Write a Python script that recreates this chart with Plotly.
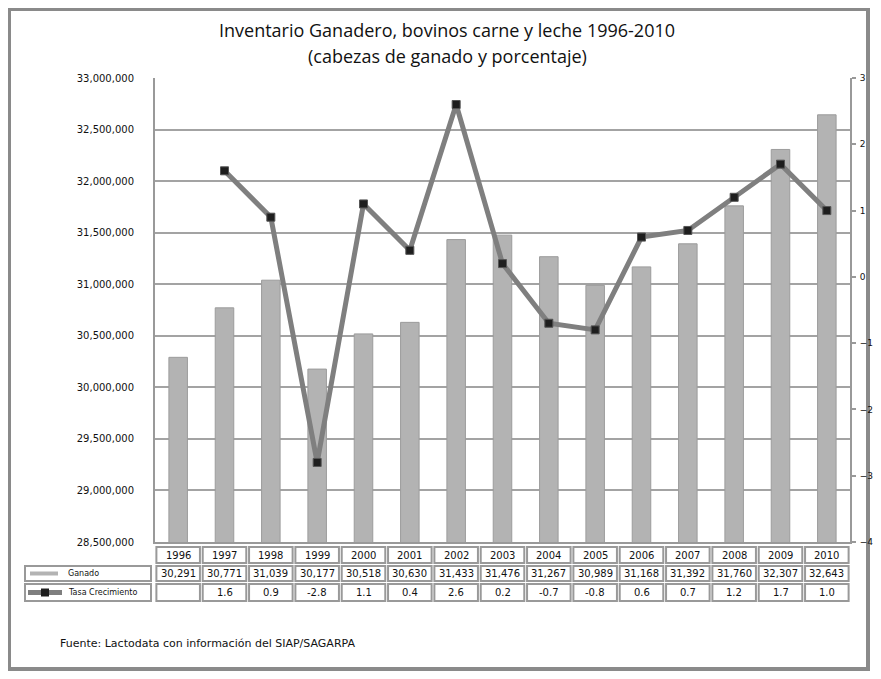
import plotly.graph_objects as go

# Datos (miles de cabezas y tasa de crecimiento anual, %)
years = ["1996", "1997", "1998", "1999", "2000", "2001", "2002", "2003",
         "2004", "2005", "2006", "2007", "2008", "2009", "2010"]
ganado_miles = [30291, 30771, 31039, 30177, 30518, 30630, 31433, 31476,
                31267, 30989, 31168, 31392, 31760, 32307, 32643]
tasa = [None, 1.6, 0.9, -2.8, 1.1, 0.4, 2.6, 0.2,
        -0.7, -0.8, 0.6, 0.7, 1.2, 1.7, 1.0]

title_1 = "Inventario Ganadero, bovinos carne y leche 1996-2010"
title_2 = "(cabezas de ganado y porcentaje)"
row_labels = ["Ganado", "Tasa Crecimiento"]
fuente = "Fuente: Lactodata con información del SIAP/SAGARPA"

# the page body adds an 8px margin on every side; keep the figure inside the window
OFF = 8
W, H = 881 - 2 * OFF, 679 - 2 * OFF
L, T = 155 - OFF, 78 - OFF
R = W - (850 - OFF)
B = H - (542 - OFF)
PW, PH = W - L - R, H - T - B

BAR_COL = "#b3b3b3"
LINE_COL = "#7f7f7f"
GRID_COL = "#a3a3a3"
NUM_FONT = dict(family="DejaVu Sans", size=10, color="#111")


def px_x(p):
    # reference pixel -> paper x
    return (p - OFF - L) / PW


def px_y(p):
    # reference pixel -> paper y
    return (H - B - (p - OFF)) / PH


ganado = [v * 1000 for v in ganado_miles]

fig = go.Figure()
fig.add_trace(go.Bar(x=years, y=ganado, name="Ganado", width=0.4,
                     marker=dict(color=BAR_COL, line=dict(color="#9c9c9c", width=1))))
fig.add_trace(go.Scatter(x=years, y=tasa, name="Tasa Crecimiento", yaxis="y2",
                         mode="lines+markers", connectgaps=False,
                         line=dict(color=LINE_COL, width=5),
                         marker=dict(symbol="square", size=8, color="#1e1e1e",
                                     line=dict(color="#555", width=1))))

shapes = []
annotations = []

# Tabla de datos debajo del grafico
rows = [(547, 563), (566, 581), (584, 601)]
for i, yr in enumerate(years):
    vals = [yr, f"{ganado_miles[i]:,}", "" if tasa[i] is None else f"{tasa[i]:.1f}"]
    for (r0, r1), txt in zip(rows, vals):
        shapes.append(dict(type="rect", xref="x", yref="paper",
                           x0=i - 0.47, x1=i + 0.47, y0=px_y(r1), y1=px_y(r0),
                           line=dict(color="#999", width=2), fillcolor="white", layer="below"))
        annotations.append(dict(x=i, y=px_y((r0 + r1) / 2), xref="x", yref="paper",
                                xanchor="center", yanchor="middle",
                                text=txt, showarrow=False, font=NUM_FONT))

for k, (r0, r1) in enumerate(rows[1:]):
    shapes.append(dict(type="rect", xref="paper", yref="paper",
                       x0=px_x(25), x1=px_x(151), y0=px_y(r1), y1=px_y(r0),
                       line=dict(color="#999", width=2), fillcolor="white", layer="below"))
    annotations.append(dict(x=px_x(66), y=px_y((r0 + r1) / 2), xref="paper", yref="paper",
                            text=row_labels[k], showarrow=False,
                            xanchor="left", yanchor="middle",
                            font=dict(family="DejaVu Sans", size=8, color="#111")))

# claves de leyenda en la tabla
yk = px_y(573.5)
shapes.append(dict(type="rect", xref="paper", yref="paper", x0=px_x(30), x1=px_x(58),
                   y0=yk - 2 / PH, y1=yk + 2 / PH, fillcolor=BAR_COL, line=dict(width=0)))
yk = px_y(592.5)
shapes.append(dict(type="line", xref="paper", yref="paper", x0=px_x(28), x1=px_x(62),
                   y0=yk, y1=yk, line=dict(color=LINE_COL, width=5)))
shapes.append(dict(type="rect", xref="paper", yref="paper", x0=px_x(41), x1=px_x(49),
                   y0=yk - 4 / PH, y1=yk + 4 / PH, fillcolor="#1e1e1e", line=dict(width=0)))

# marco exterior (bottom edge kept inside the figure)
shapes.append(dict(type="rect", xref="paper", yref="paper", x0=px_x(9), x1=px_x(868),
                   y0=px_y(H + OFF - 2), y1=px_y(9), line=dict(color="#8a8a8a", width=4),
                   layer="below"))

annotations.append(dict(x=px_x(447), y=px_y(30), xref="paper", yref="paper", text=title_1,
                        xanchor="center", yanchor="middle", showarrow=False,
                        font=dict(family="Open Sans", size=18, color="#111")))
annotations.append(dict(x=px_x(447), y=px_y(56), xref="paper", yref="paper", text=title_2,
                        xanchor="center", yanchor="middle", showarrow=False,
                        font=dict(family="Open Sans", size=18, color="#111")))
annotations.append(dict(x=px_x(58), y=px_y(643), xref="paper", yref="paper", text=fuente,
                        showarrow=False, xanchor="left", yanchor="middle",
                        font=dict(family="DejaVu Sans", size=11, color="#111")))

fig.update_layout(
    width=W, height=H, margin=dict(l=L, r=R, t=T, b=B, autoexpand=False),
    paper_bgcolor="white", plot_bgcolor="white",
    showlegend=False, barmode="overlay",
    shapes=shapes, annotations=annotations,
    xaxis=dict(type="category", range=[-0.5, 14.5], showticklabels=False, automargin=False,
               showline=True, linecolor="#999", linewidth=2, showgrid=False),
    yaxis=dict(range=[28500000, 33000000], dtick=500000, tickformat=",d", automargin=False,
               showgrid=True, gridcolor=GRID_COL, gridwidth=2,
               showline=True, linecolor="#999", linewidth=2, mirror=False,
               ticks="", ticklabelstandoff=17, tickfont=NUM_FONT, zeroline=False),
    yaxis2=dict(range=[-4, 3], dtick=1, overlaying="y", side="right", showgrid=False,
                automargin=False, showline=True, linecolor="#999", linewidth=2,
                ticks="outside", ticklen=4, tickcolor="#999", tickwidth=2,
                ticklabelstandoff=2, tickfont=dict(family="DejaVu Sans", size=9, color="#111"),
                zeroline=False),
)

fig.write_html("out.html")
